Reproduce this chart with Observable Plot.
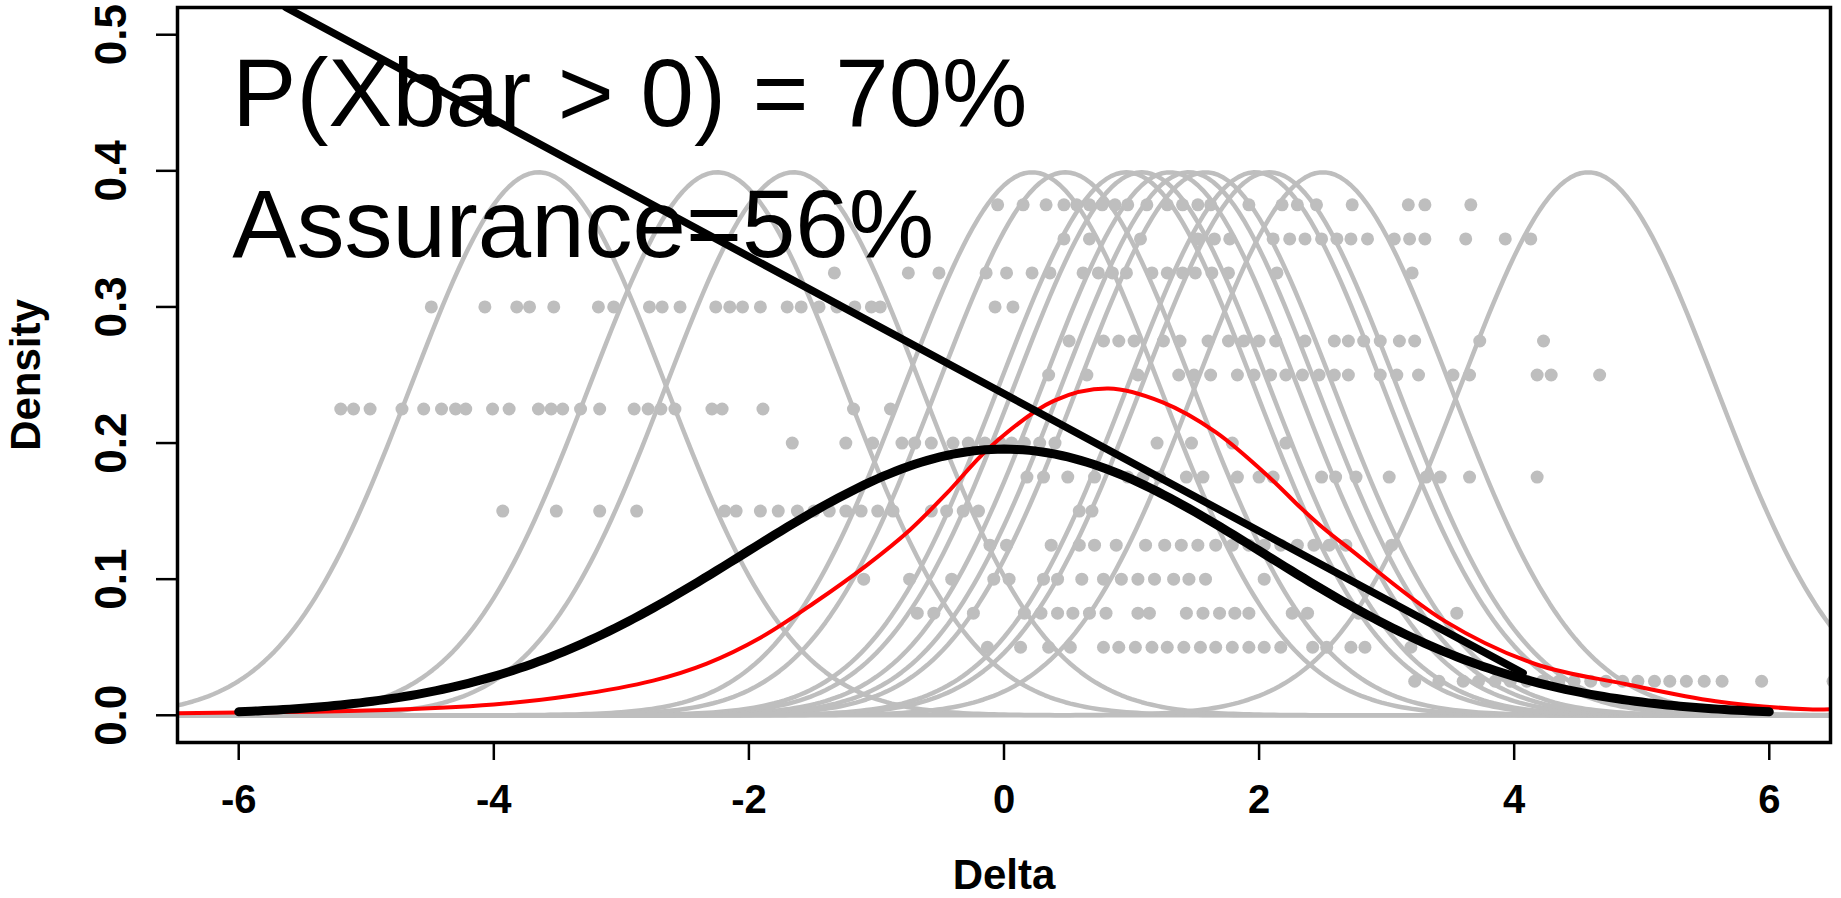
<!DOCTYPE html>
<html><head><meta charset="utf-8">
<script src="https://cdn.jsdelivr.net/npm/d3@7"></script>
<script src="https://cdn.jsdelivr.net/npm/@observablehq/plot@0.6"></script>
<style>
html,body{margin:0;padding:0;background:#fff;}
svg{display:block;}
</style></head><body><div id="chart"></div>
<script>
// ---- data ----
const xTicks = [-6, -4, -2, 0, 2, 4, 6];
const xTickLabels = ["-6", "-4", "-2", "0", "2", "4", "6"];
const yTicks = [0, 0.1, 0.2, 0.3, 0.4, 0.5];
const yTickLabels = ["0.0", "0.1", "0.2", "0.3", "0.4", "0.5"];
const xTitle = "Delta";
const yTitle = "Density";

// grey likelihood curves: normal densities (mean read from peak, sd 1)
const grayMeans = [-3.65, -2.25, -1.65, 0.22, 0.48, 0.96, 1.08, 1.3, 1.45, 1.58, 1.97, 2.08, 2.5, 4.58];
const graySd = 1;

// black prior curve: normal density, mean 0, sd 2.04, drawn from -6 to 6
const priorMean = 0;
const priorSd = 2.04;
const priorRange = [-6, 6];

// red predictive curve
const redX = [-6.48, -6.0, -5.0, -4.0, -3.38, -2.75, -2.33, -1.91, -1.49, -1.08, -0.74, -0.45, -0.11, 0.39, 0.82, 1.24, 1.66, 2.09, 2.32, 2.51, 2.70, 3.46, 4.17, 4.87, 5.58, 6.30, 6.48];
const redY = [0.0015, 0.002, 0.0035, 0.008, 0.0145, 0.0255, 0.038, 0.057, 0.0825, 0.110, 0.136, 0.163, 0.197, 0.231, 0.240, 0.230, 0.208, 0.174, 0.153, 0.137, 0.123, 0.069, 0.0375, 0.023, 0.0103, 0.0044, 0.0044];

// straight black line
const slopeX = [-5.63, 4.07];
const slopeY = [0.52, 0.031];

// grey dot rows (height level, then x positions)
const dotLevels = [0.375, 0.35, 0.325, 0.3, 0.275, 0.25, 0.225, 0.2, 0.175, 0.15, 0.125, 0.1, 0.075, 0.05, 0.025];
const dotRow0375 = [-0.05, 0.15, 0.33, 0.47, 0.57, 0.67, 0.77, 0.87, 0.97, 1.12, 1.28, 1.40, 1.52, 1.62, 1.92, 2.18, 2.30, 2.45, 2.73, 3.17, 3.30, 3.66];
const dotRow035 = [0.47, 0.67, 1.07, 1.52, 1.65, 1.77, 2.11, 2.24, 2.36, 2.49, 2.61, 2.72, 2.85, 3.06, 3.18, 3.30, 3.62, 3.93, 4.13];
const dotRow0325 = [-1.33, -0.75, -0.51, -0.14, 0.02, 0.22, 0.36, 0.62, 0.74, 0.85, 0.96, 1.16, 1.28, 1.40, 1.50, 1.63, 1.76, 2.14, 3.20];
const dotRow03 = [-4.49, -4.07, -3.82, -3.72, -3.53, -3.18, -3.06, -2.78, -2.68, -2.54, -2.26, -2.15, -2.05, -1.91, -1.70, -1.59, -1.45, -1.31, -1.17, -1.04, -0.97, -0.07, 0.07];
const dotRow0275 = [0.51, 0.78, 0.90, 1.02, 1.25, 1.38, 1.60, 1.76, 1.88, 2.00, 2.13, 2.36, 2.59, 2.70, 2.82, 2.95, 3.10, 3.22, 3.73, 4.23];
const dotRow025 = [0.35, 0.65, 1.05, 1.37, 1.49, 1.62, 1.83, 1.96, 2.09, 2.21, 2.34, 2.47, 2.59, 2.70, 2.95, 3.08, 3.25, 3.52, 3.65, 4.18, 4.29, 4.67];
const dotRow0225 = [-5.20, -5.10, -4.97, -4.72, -4.55, -4.41, -4.30, -4.22, -4.01, -3.88, -3.65, -3.55, -3.46, -3.32, -3.17, -2.90, -2.79, -2.69, -2.58, -2.29, -2.21, -1.89, -1.18, -0.89];
const dotRow02 = [-1.66, -1.24, -1.03, -0.80, -0.70, -0.57, -0.40, -0.28, -0.15, -0.03, 0.06, 0.16, 0.28, 0.40, 1.20, 1.47, 1.79, 2.21];
const dotRow0175 = [0.18, 0.31, 0.50, 0.71, 0.97, 1.09, 1.22, 1.43, 1.56, 1.83, 2.00, 2.11, 2.49, 2.60, 2.76, 3.02, 3.31, 3.42, 3.65, 4.18];
const dotRow015 = [-3.93, -3.51, -3.17, -2.88, -2.19, -2.10, -1.91, -1.77, -1.62, -1.49, -1.37, -1.24, -1.12, -0.99, -0.87, -0.57, -0.45, -0.32, -0.20, 0.59, 0.69];
const dotRow0125 = [-0.11, 0.02, 0.37, 0.59, 0.71, 0.88, 1.11, 1.26, 1.39, 1.52, 1.66, 1.79, 1.92, 2.04, 2.17, 2.30, 2.43, 2.55, 2.68, 3.04];
const dotRow01 = [-1.10, -0.74, -0.41, -0.08, 0.04, 0.31, 0.42, 0.61, 0.78, 0.92, 1.05, 1.18, 1.33, 1.45, 1.58, 2.04];
const dotRow0075 = [-0.68, -0.55, -0.24, 0.16, 0.29, 0.42, 0.54, 0.67, 0.80, 1.05, 1.14, 1.43, 1.56, 1.69, 1.81, 1.92, 2.26, 2.38, 2.78, 3.55];
const dotRow005 = [-0.13, 0.13, 0.35, 0.52, 0.78, 0.90, 1.03, 1.16, 1.28, 1.41, 1.54, 1.66, 1.79, 1.92, 2.04, 2.17, 2.42, 2.53, 2.72, 2.83, 3.19];
const dotRow0025 = [3.22, 3.41, 3.60, 3.72, 3.85, 3.97, 4.10, 4.22, 4.35, 4.47, 4.60, 4.72, 4.85, 4.97, 5.10, 5.22, 5.35, 5.49, 5.63, 5.94, 6.50];
const dotRows = [dotRow0375, dotRow035, dotRow0325, dotRow03, dotRow0275, dotRow025, dotRow0225, dotRow02, dotRow0175, dotRow015, dotRow0125, dotRow01, dotRow0075, dotRow005, dotRow0025];

// annotation text
const noteTexts = ["P(Xbar > 0) = 70%", "Assurance=56%"];
const noteX = [-6.05, -6.05];
const noteY = [0.4326, 0.337];

// ---- build tables ----
const xDomain = [-6.48, 6.48];
const yDomain = [-0.02, 0.52];
const dnorm = (x, m, s) => Math.exp(-0.5 * ((x - m) / s) ** 2) / (s * Math.sqrt(2 * Math.PI));
const grid = d3.range(0, 325).map(i => xDomain[0] + i * 0.04);
const grayData = grayMeans.flatMap((m, k) => grid.map(x => ({k, x, y: dnorm(x, m, graySd)})));
const priorGrid = d3.range(0, 241).map(i => priorRange[0] + i * 0.05);
const priorData = priorGrid.map(x => ({x, y: dnorm(x, priorMean, priorSd)}));
const redData = redX.map((x, i) => ({x, y: redY[i]}));
const slopeData = slopeX.map((x, i) => ({x, y: slopeY[i]}));
const dotData = dotRows.flatMap((row, i) => row.map(x => ({x, y: dotLevels[i]})));
const noteData = noteTexts.map((t, i) => ({t, x: noteX[i], y: noteY[i]}));

const font = "'Liberation Sans', Arial, Helvetica, sans-serif";

const chart = Plot.plot({
  width: 1841,
  height: 898,
  marginLeft: 177,
  marginRight: 11,
  marginTop: 7,
  marginBottom: 156,
  style: {fontFamily: font, background: "white", color: "black"},
  x: {domain: xDomain, axis: null},
  y: {domain: yDomain, axis: null},
  marks: [
    Plot.line(grayData, {x: "x", y: "y", z: "k", stroke: "#bebebe", strokeWidth: 4.5, clip: true}),
    Plot.dot(dotData, {x: "x", y: "y", r: 6.5, fill: "#bebebe", stroke: null, clip: true}),
    Plot.line(redData, {x: "x", y: "y", stroke: "#ff0000", strokeWidth: 4, curve: "catmull-rom", clip: true}),
    Plot.line(priorData, {x: "x", y: "y", stroke: "black", strokeWidth: 9, clip: true}),
    Plot.line(slopeData, {x: "x", y: "y", stroke: "black", strokeWidth: 7.5, clip: true}),
    Plot.text(noteData, {x: "x", y: "y", text: "t", textAnchor: "start", lineAnchor: "bottom", fontSize: 96, fill: "black"}),
    Plot.frame({stroke: "black", strokeWidth: 3.5}),
    Plot.axisX(xTicks, {anchor: "bottom", tickSize: 18, tickPadding: 24, strokeWidth: 2.5, tickFormat: (d, i) => xTickLabels[i], fontSize: 40, fontWeight: "bold", label: null}),
    Plot.axisY(yTicks, {anchor: "left", tickSize: 21, strokeWidth: 2.5, tickFormat: () => "", label: null}),
    Plot.text(yTicks, {y: d => d, text: (d, i) => yTickLabels[i], frameAnchor: "left", textAnchor: "middle", lineAnchor: "middle", dx: -66, rotate: -90, fontSize: 44, fontWeight: "bold", fill: "black"}),
    Plot.text([xTitle], {text: d => d, frameAnchor: "bottom", textAnchor: "middle", lineAnchor: "middle", dy: 133, fontSize: 42, fontWeight: "bold", fill: "black"}),
    Plot.text([yTitle], {text: d => d, frameAnchor: "left", textAnchor: "middle", lineAnchor: "middle", dx: -151, rotate: -90, fontSize: 42, fontWeight: "bold", fill: "black"})
  ]
});
document.getElementById("chart").appendChild(chart);
</script></body></html>
